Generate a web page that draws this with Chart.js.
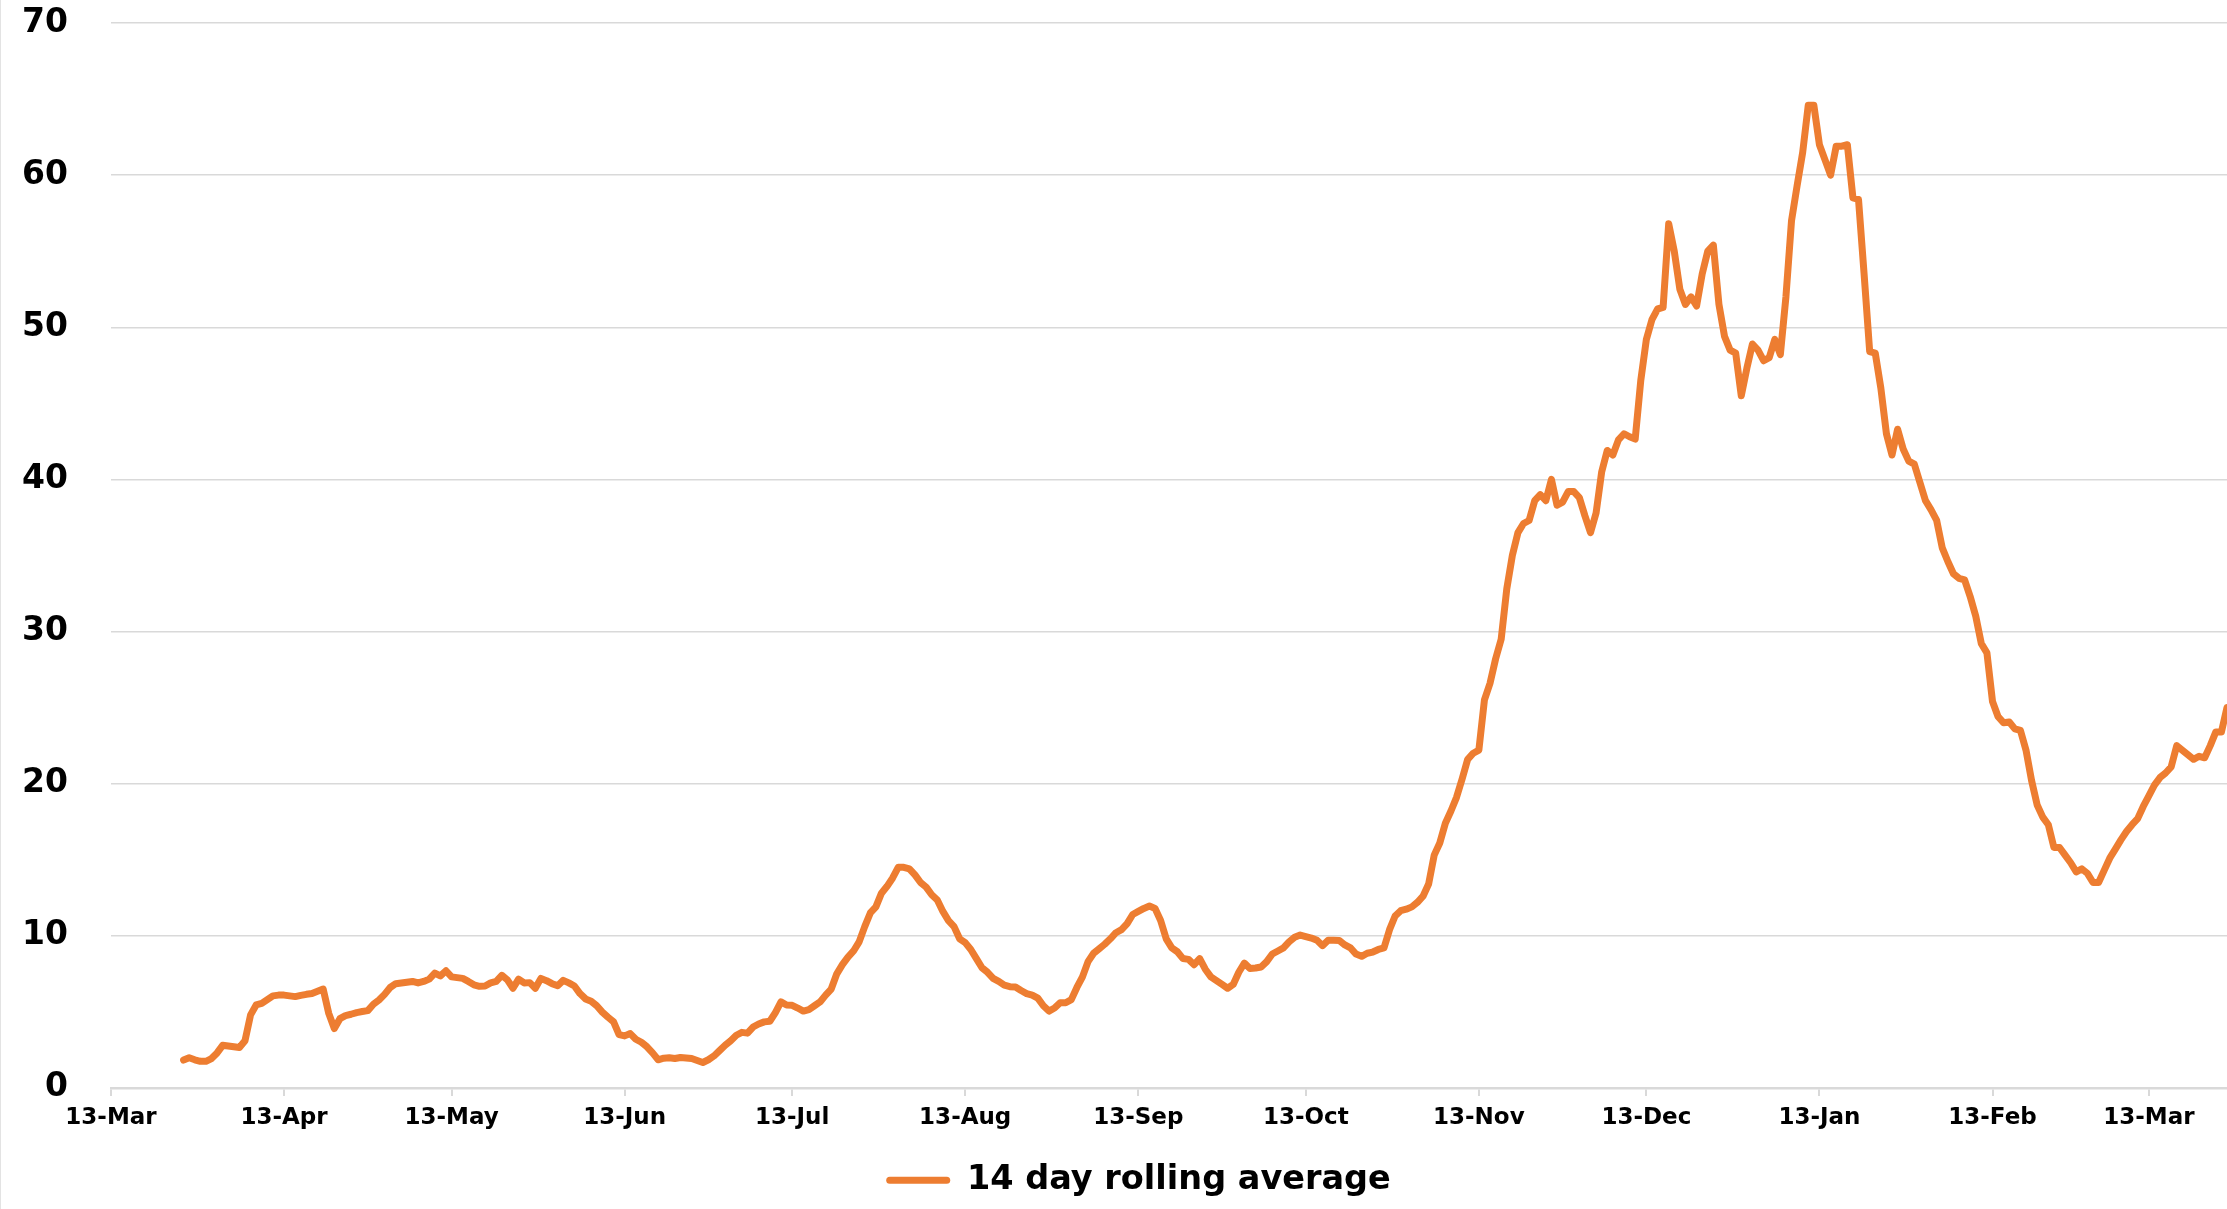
<!DOCTYPE html>
<html>
<head>
<meta charset="utf-8">
<title>14 day rolling average</title>
<script src="https://cdn.jsdelivr.net/npm/chart.js@4.4.0/dist/chart.umd.min.js"></script>
<style>
  html, body { margin: 0; padding: 0; background: #fff; }
  .wrap { position: relative; width: 2227px; height: 1209px; }
  .wrap::before { content: ''; position: absolute; left: 0; top: 0; width: 1px; height: 100%; background: #e3e3e3; }
  canvas { display: block; }
</style>
</head>
<body>
<div class="wrap">
<canvas id="rollingChart" width="2227" height="1209"></canvas>
</div>
<script>
// day 0 = 13-Mar, one point per day
const tickLabels = ['13-Mar', '13-Apr', '13-May', '13-Jun', '13-Jul', '13-Aug', '13-Sep',
                    '13-Oct', '13-Nov', '13-Dec', '13-Jan', '13-Feb', '13-Mar'];
const tickDays = [0, 31, 61, 92, 122, 153, 184, 214, 245, 275, 306, 337, 365];
const firstDay = 13;   // 26-Mar, first value
const lastDay = 379;   // right edge of the plot

// 14 day rolling average, days 13..379
const rollingAvg = [
    1.83, 1.98, 1.85, 1.75, 1.75, 1.93, 2.3,
    2.8, 2.75, 2.7, 2.65, 3.1, 4.8, 5.45, 5.55, 5.8, 6.05,
    6.1, 6.1, 6.05, 6.0, 6.08, 6.15, 6.2, 6.35, 6.5, 4.9,
    3.9, 4.55, 4.75, 4.84, 4.95, 5.02, 5.08, 5.5, 5.78, 6.15,
    6.6, 6.85, 6.9, 6.95, 7.0, 6.9, 7.0, 7.15, 7.55, 7.36,
    7.7, 7.3, 7.25, 7.2, 7.0, 6.78, 6.68, 6.7, 6.9, 7.0,
    7.4, 7.1, 6.55, 7.15, 6.9, 6.92, 6.55, 7.2, 7.05, 6.85,
    6.72, 7.07, 6.9, 6.7, 6.2, 5.85, 5.7, 5.4, 4.98, 4.65,
    4.35, 3.5, 3.42, 3.57, 3.2, 3.0, 2.7, 2.3, 1.85, 1.95,
    1.98, 1.93, 2.0, 1.97, 1.93, 1.8, 1.67, 1.85, 2.1, 2.45,
    2.8, 3.1, 3.46, 3.65, 3.6, 4.0, 4.2, 4.34, 4.38, 4.95,
    5.65, 5.45, 5.43, 5.25, 5.05, 5.15, 5.4, 5.65, 6.1, 6.5,
    7.5, 8.1, 8.6, 9.0, 9.6, 10.6, 11.5, 11.9, 12.8, 13.25,
    13.8, 14.5, 14.5, 14.4, 14.0, 13.5, 13.2, 12.7, 12.35, 11.6,
    11.0, 10.6, 9.8, 9.55, 9.1, 8.5, 7.9, 7.6, 7.2, 7.0,
    6.75, 6.65, 6.63, 6.4, 6.2, 6.1, 5.9, 5.4, 5.05, 5.25,
    5.6, 5.6, 5.8, 6.6, 7.3, 8.3, 8.85, 9.15, 9.45, 9.8,
    10.2, 10.4, 10.8, 11.4, 11.6, 11.8, 11.95, 11.8, 11.0, 9.8,
    9.2, 8.95, 8.5, 8.45, 8.1, 8.5, 7.8, 7.3, 7.05, 6.8,
    6.55, 6.8, 7.6, 8.2, 7.85, 7.88, 7.95, 8.3, 8.8, 9.0,
    9.2, 9.6, 9.9, 10.05, 9.95, 9.85, 9.7, 9.35, 9.7, 9.7,
    9.69, 9.4, 9.2, 8.8, 8.65, 8.85, 8.93, 9.1, 9.2, 10.4,
    11.3, 11.65, 11.75, 11.9, 12.2, 12.6, 13.4, 15.3, 16.1, 17.4,
    18.2, 19.1, 20.3, 21.6, 22.0, 22.2, 25.5, 26.6, 28.2, 29.5,
    32.8, 35.0, 36.5, 37.1, 37.3, 38.6, 39.0, 38.6, 40.0, 38.3,
    38.5, 39.2, 39.2, 38.8, 37.6, 36.5, 37.8, 40.5, 41.9, 41.6,
    42.6, 43.0, 42.8, 42.65, 46.5, 49.2, 50.5, 51.2, 51.3, 56.8,
    55.0, 52.5, 51.5, 52.0, 51.4, 53.5, 55.0, 55.4, 51.5, 49.4,
    48.5, 48.3, 45.5, 47.3, 48.9, 48.5, 47.8, 48.0, 49.2, 48.2,
    52.0, 57.0, 59.3, 61.5, 64.6, 64.6, 62.0, 61.0, 60.0, 61.9,
    61.9, 62.0, 58.5, 58.4, 53.5, 48.4, 48.3, 46.0, 43.0, 41.6,
    43.3, 42.0, 41.2, 41.0, 39.8, 38.6, 38.0, 37.3, 35.5, 34.6,
    33.8, 33.5, 33.4, 32.3, 31.0, 29.2, 28.6, 25.4, 24.4, 24.0,
    24.05, 23.6, 23.5, 22.2, 20.2, 18.6, 17.8, 17.3, 15.8, 15.8,
    15.3, 14.8, 14.2, 14.4, 14.1, 13.5, 13.5, 14.3, 15.1, 15.7,
    16.3, 16.85, 17.3, 17.7, 18.5, 19.2, 19.9, 20.4, 20.7, 21.1,
    22.5, 22.2, 21.9, 21.6, 21.8, 21.7, 22.5, 23.4, 23.4, 25.0
];

const orange = '#ED7D31';
const gridGrey = '#d9d9d9';

new Chart(document.getElementById('rollingChart').getContext('2d'), {
    type: 'line',
    data: {
        datasets: [{
            label: '14 day rolling average',
            data: rollingAvg.map((v, i) => ({ x: firstDay + i, y: v })),
            borderColor: orange,
            backgroundColor: orange,
            borderWidth: 7,
            borderJoinStyle: 'round',
            borderCapStyle: 'round',
            pointRadius: 0,
            tension: 0
        }]
    },
    options: {
        responsive: false,
        animation: false,
        devicePixelRatio: 1,
        layout: {
            // left padding only to centre the legend like the original
            padding: { left: 50, right: 0, top: 23, bottom: 2 }
        },
        scales: {
            x: {
                type: 'linear',
                min: 0,
                max: lastDay,
                afterBuildTicks: scale => {
                    scale.ticks = tickDays.map(d => ({ value: d }));
                },
                ticks: {
                    autoSkip: false,
                    maxRotation: 0,
                    padding: 8,
                    color: '#000',
                    font: { family: 'DejaVu Sans', weight: 'bold', size: 23 },
                    callback: value => tickLabels[tickDays.indexOf(value)]
                },
                grid: {
                    drawOnChartArea: false,
                    drawTicks: true,
                    tickLength: 8,
                    color: gridGrey,
                    lineWidth: 2
                },
                border: { display: true, color: gridGrey, width: 2.5 }
            },
            y: {
                min: 0,
                max: 70,
                afterFit: scale => {
                    scale.width = 61;
                    // labels stick out left of the (narrow) axis box, don't clip them
                    scale._computeLabelArea = () => undefined;
                },
                ticks: {
                    stepSize: 10,
                    padding: 0,
                    color: '#000',
                    font: { family: 'DejaVu Sans', weight: 'bold', size: 33 }
                },
                grid: {
                    color: gridGrey,
                    lineWidth: 1.5,
                    drawTicks: true,
                    tickLength: 43,
                    tickColor: 'rgba(0,0,0,0)'
                },
                border: { display: false }
            }
        },
        plugins: {
            legend: {
                position: 'bottom',
                labels: {
                    boxWidth: 64,
                    boxHeight: 7,
                    padding: 24,
                    color: '#000',
                    font: { family: 'DejaVu Sans', weight: 'bold', size: 33.5 },
                    generateLabels: chart => {
                        const items = Chart.defaults.plugins.legend.labels.generateLabels(chart);
                        items.forEach(it => { it.lineWidth = 0; it.borderRadius = 3.5; });
                        return items;
                    }
                }
            },
            tooltip: { enabled: false }
        }
    }
});
</script>
</body>
</html>
